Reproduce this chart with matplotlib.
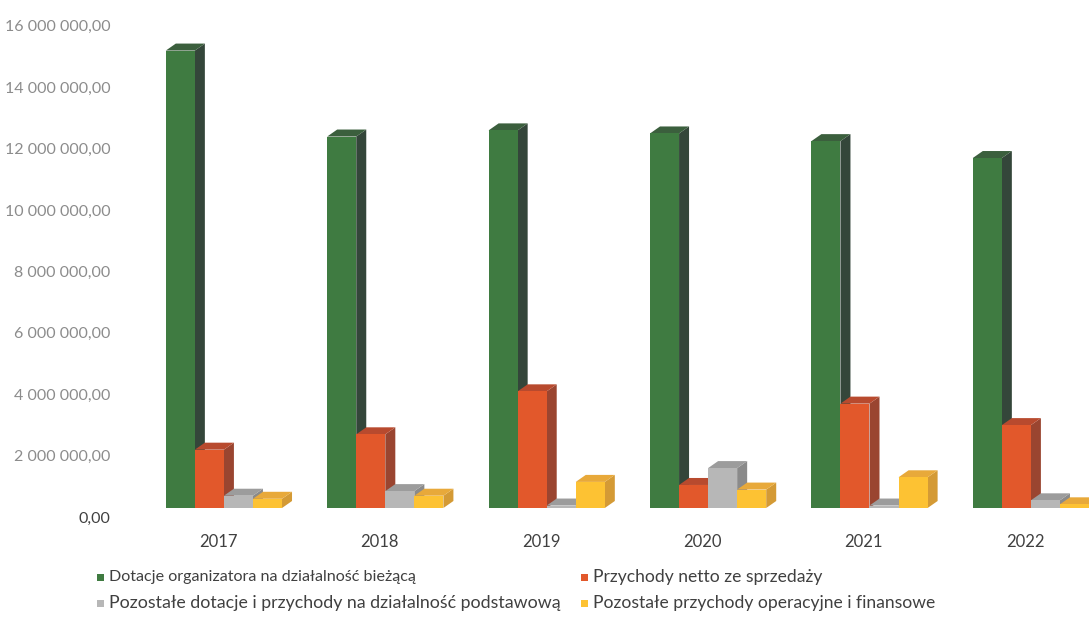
import matplotlib.pyplot as plt
from matplotlib.patches import Polygon, Rectangle

years = ["2017", "2018", "2019", "2020", "2021", "2022"]
series_names = [
    "Dotacje organizatora na działalność bieżącą",
    "Przychody netto ze sprzedaży",
    "Pozostałe dotacje i przychody na działalność podstawową",
    "Pozostałe przychody operacyjne i finansowe",
]
dotacje_organizatora = [14.9e6, 12.1e6, 12.3e6, 12.2e6, 11.95e6, 11.4e6]
przychody_netto = [1.9e6, 2.4e6, 3.8e6, 0.75e6, 3.4e6, 2.7e6]
pozostale_dotacje = [0.4e6, 0.55e6, 0.08e6, 1.3e6, 0.08e6, 0.25e6]
pozostale_przychody = [0.3e6, 0.4e6, 0.85e6, 0.6e6, 1.0e6, 0.12e6]
y_ticks = [0, 2e6, 4e6, 6e6, 8e6, 10e6, 12e6, 14e6, 16e6]

series = [dotacje_organizatora, przychody_netto, pozostale_dotacje, pozostale_przychody]
# front / side / top face colours for the pseudo-3D columns
faces = [
    ("#3f7b41", "#34463a", "#3b5f3d"),
    ("#e2582b", "#9a4530", "#b84a2e"),
    ("#b7b7b7", "#8a8a8a", "#9c9c9c"),
    ("#fdc233", "#d49a35", "#e8a93a"),
]

plt.rcParams["font.family"] = ["Lato", "DejaVu Sans"]

px_per_unit = 30.7 / 1e6     # pixels per zł on the value axis
floor = 0.3e6                 # room below the base for the shifted labels

fig = plt.figure(figsize=(10.89, 6.41), dpi=100)
ax = fig.add_axes([119 / 1089, 1 - (508 + floor * px_per_unit) / 641,
                   970 / 1089, (498 + floor * px_per_unit) / 641])

bar_w = 0.18
dx = 0.062            # depth offset along x (data units)
dy = 7 / px_per_unit  # depth offset along y (data units)

for i in range(len(years)):
    for k, vals in enumerate(series):
        h = vals[i]
        x0 = i - 0.36 + k * bar_w
        front, side, top = faces[k]
        z = 2 + i * 10 + k * 2
        ax.add_patch(Polygon([(x0 + bar_w, 0), (x0 + bar_w + dx, dy),
                              (x0 + bar_w + dx, h + dy), (x0 + bar_w, h)],
                             closed=True, facecolor=side, edgecolor="none", zorder=z))
        ax.add_patch(Polygon([(x0, h), (x0 + dx, h + dy), (x0 + bar_w + dx, h + dy),
                              (x0 + bar_w, h)],
                             closed=True, facecolor=top, edgecolor="none", zorder=z))
        ax.bar(x0, h, width=bar_w, align="edge", color=front, zorder=z + 1)

ax.set_xlim(-0.65, 5.36)
ax.set_ylim(-floor, 498 / px_per_unit)

# labels sit a little below the level they name (back wall of the 3D chart)
label_drop = 9 / px_per_unit
ax.set_yticks([v - label_drop for v in y_ticks])
ax.set_yticklabels(["{:,.2f}".format(v).replace(",", " ").replace(".", ",") for v in y_ticks],
                   fontsize=11.5)
for v, lab in zip(y_ticks, ax.get_yticklabels()):
    lab.set_color("#404040" if v == 0 else "#8c8c8c")

ax.set_xticks([i - 0.035 for i in range(len(years))])
ax.set_xticklabels(years, color="#404040", fontsize=12)
ax.tick_params(axis="x", length=0, pad=12)
ax.tick_params(axis="y", length=0, pad=6)
for s in ax.spines.values():
    s.set_visible(False)

# legend laid out in two rows of two
leg_pos = [(100, 577), (584, 577), (100, 603), (584, 603)]
leg_size = [11.6, 12.6, 12.8, 12.6]
for (px, py), name, (front, _, _), fs in zip(leg_pos, series_names, faces, leg_size):
    fig.patches.append(Rectangle((px / 1089 - 3.5 / 1089, 1 - py / 641 - 3.5 / 641),
                                 7 / 1089, 7 / 641, transform=fig.transFigure,
                                 facecolor=front, edgecolor="none"))
    fig.text((px + 9) / 1089, 1 - py / 641, name, ha="left", va="center",
             fontsize=fs, color="#404040")

fig.savefig("out.png", dpi=100)
